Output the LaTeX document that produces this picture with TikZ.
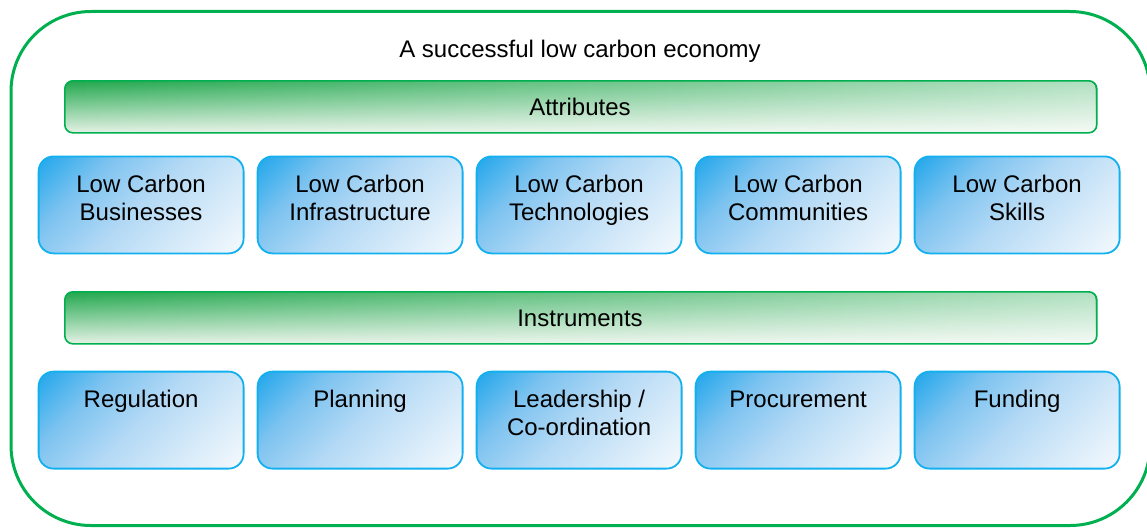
\documentclass[tikz,border=0pt]{standalone}
\usepackage{fontspec}
\setmainfont{Liberation Sans}
\usetikzlibrary{fadings}

\definecolor{frameGreen}{HTML}{00B050}
\definecolor{barGreen}{HTML}{22A84E}
\definecolor{barPale}{HTML}{E6F2E6}
\definecolor{boxBlue}{HTML}{22A7EB}
\definecolor{boxEdge}{HTML}{12B0EF}
\definecolor{cardA}{HTML}{7DC3F0}
\definecolor{cardB}{HTML}{B3D9F5}
\definecolor{cardC}{HTML}{D6EAF9}
\definecolor{cardD}{HTML}{F4F9FD}

% diagonal fill of the cards: strong blue in one corner, near white in the other
\pgfdeclareverticalshading{cardshade}{100bp}{%
  color(0bp)=(cardD); color(15bp)=(cardD); color(32bp)=(cardC);
  color(50bp)=(cardB); color(68bp)=(cardA); color(85bp)=(boxBlue);
  color(100bp)=(boxBlue)}

\tikzset{
  outerframe/.style={draw=frameGreen, line width=3pt, rounded corners=80pt},
  bar/.style={rectangle, anchor=north west, inner sep=0pt,
    minimum width=1032pt, minimum height=52pt, rounded corners=8pt,
    preaction={top color=barGreen, bottom color=barPale},
    preaction={fill=white, path fading=west, fill opacity=0.65},
    draw=frameGreen, line width=1.6pt},
  card/.style={rectangle, anchor=north west, inner sep=0pt,
    minimum width=205pt, minimum height=97pt, rounded corners=15pt,
    preaction={shading=cardshade, shading angle=45},
    draw=boxEdge, line width=1.8pt},
  lbl/.style={font=\fontsize{24}{28}\selectfont, align=center, inner sep=0pt, anchor=base},
}

\begin{document}
\begin{tikzpicture}[x=1pt, y=-1pt]
  \useasboundingbox (0,0) rectangle (1147,527);

  % outer rounded frame
  \draw[outerframe] (11,11.5) rectangle (1150,525.5);
  \node[lbl] (title) at (580,57) {A successful low carbon economy};

  % section bars
  \node[bar] (attr) at (64,80) {};
  \node[lbl] (attrt) at (580,115) {Attributes};
  \node[bar] (inst) at (64,291) {};
  \node[lbl] (instt) at (580,326) {Instruments};

  % attribute cards (label baseline sits on the last line, hence the shift)
  \foreach \t/\s [count=\k] in {{Low Carbon\\Businesses}/65,{Low Carbon\\Infrastructure}/65,{Low Carbon\\Technologies}/65,{Low Carbon\\Communities}/65,{Low Carbon\\Skills}/65}{
    \node[card] (a\k) at ({37.7+219*(\k-1)},155.5) {};
    \node[lbl] (a\k t) at ([yshift=-\s pt]a\k.north) {\t};
  }

  % instrument cards
  \foreach \t/\s [count=\k] in {{Regulation}/37,{Planning}/37,{Leadership /\\Co-ordination}/65,{Procurement}/37,{Funding}/37}{
    \node[card] (i\k) at ({37.7+219*(\k-1)},370.7) {};
    \node[lbl] (i\k t) at ([yshift=-\s pt]i\k.north) {\t};
  }
\end{tikzpicture}
\end{document}
